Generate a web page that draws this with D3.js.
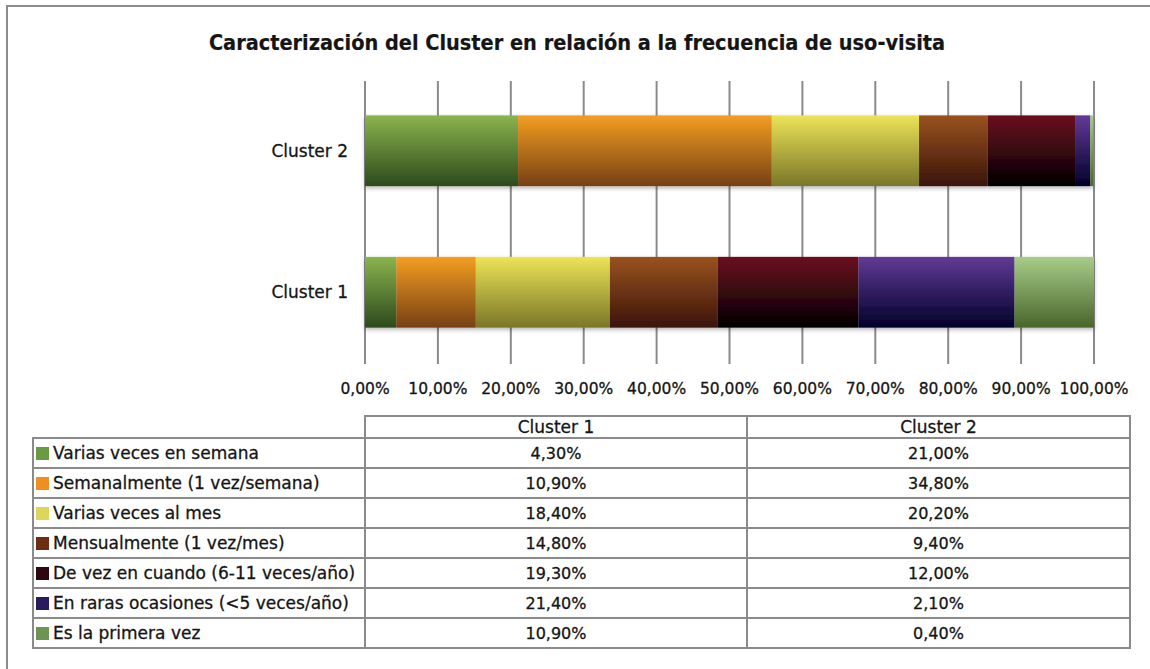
<!DOCTYPE html>
<html>
<head>
<meta charset="utf-8">
<script src="https://cdn.jsdelivr.net/npm/d3@7"></script>
<style>
  body { margin: 0; background: #fff; }
  text { font-family: "DejaVu Sans", sans-serif; fill: #151515; stroke: #151515; stroke-width: 0.3px; }
  text.title { font-family: "DejaVu Sans Condensed", "DejaVu Sans", sans-serif; stroke-width: 0.2px; }
</style>
</head>
<body>
<script>
var width = 1150;
var height = 669;

// data
var clusters = ["Cluster 1", "Cluster 2"];
var categories = [
  "Varias veces en semana",
  "Semanalmente (1 vez/semana)",
  "Varias veces al mes",
  "Mensualmente (1 vez/mes)",
  "De vez en cuando (6-11 veces/año)",
  "En raras ocasiones (<5 veces/año)",
  "Es la primera vez"
];
var cluster1 = [4.3, 10.9, 18.4, 14.8, 19.3, 21.4, 10.9];
var cluster2 = [21.0, 34.8, 20.2, 9.4, 12.0, 2.1, 0.4];
var xTicks = [0, 10, 20, 30, 40, 50, 60, 70, 80, 90, 100];

// colours: [top of gradient, bottom of gradient, legend swatch]
var colors = [
  ["#8ab44e", "#2c4a1c", "#6a9a42"],
  ["#f49e22", "#764014", "#ef8f20"],
  ["#ece458", "#7a7628", "#dcd65a"],
  ["#9a5220", "#3a1408", "#6e2c12"],
  ["#6c1020", "#000000", "#2e0810"],
  ["#623a96", "#00002a", "#2c1a5e"],
  ["#a8cc8a", "#48662a", "#6e9452"]
];

var loc = d3.formatLocale({decimal: ",", thousands: ".", grouping: [3], currency: ["", "€"]});
var fmt = loc.format(".2f");
var pct = function(v) { return fmt(v) + "%"; };

var svg = d3.select("body").append("svg")
  .attr("width", width)
  .attr("height", height);

var defs = svg.append("defs");
colors.forEach(function(c, i) {
  var g = defs.append("linearGradient")
    .attr("id", "grad" + i)
    .attr("x1", 0).attr("y1", 0).attr("x2", 0).attr("y2", 1);
  g.append("stop").attr("offset", "0%").attr("stop-color", c[0]);
  g.append("stop").attr("offset", "100%").attr("stop-color", c[1]);
});
var shadow = defs.append("filter").attr("id", "shadow")
  .attr("x", "-5%").attr("y", "-10%").attr("width", "110%").attr("height", "130%");
shadow.append("feDropShadow")
  .attr("dx", 0).attr("dy", 2).attr("stdDeviation", 2)
  .attr("flood-color", "#000").attr("flood-opacity", 0.3);

// outer frame
svg.append("path")
  .attr("d", "M7,669 V6 H1150")
  .attr("fill", "none")
  .attr("stroke", "#8c8c8c")
  .attr("stroke-width", 2);

// title
svg.append("text")
  .attr("class", "title")
  .attr("x", 577)
  .attr("y", 50)
  .attr("text-anchor", "middle")
  .style("font-size", "21.5px")
  .style("font-weight", "bold")
  .text("Caracterización del Cluster en relación a la frecuencia de uso-visita");

var x = d3.scaleLinear().domain([0, 100]).range([365, 1094]);
var y = d3.scaleBand()
  .domain(["Cluster 2", "Cluster 1"])
  .range([80, 363])
  .paddingInner(0.5)
  .paddingOuter(0.25);

// grid
svg.append("g").selectAll("line")
  .data(xTicks)
  .enter()
  .append("line")
  .attr("x1", function(d) { return x(d); })
  .attr("x2", function(d) { return x(d); })
  .attr("y1", 81)
  .attr("y2", 364)
  .attr("stroke", "#8a8a8a")
  .attr("stroke-width", 2);

// stacked bars
var rows = clusters.map(function(c, ci) {
  var vals = ci === 0 ? cluster1 : cluster2;
  var acc = 0;
  return vals.map(function(v, i) {
    var seg = {cluster: c, i: i, x0: acc, x1: acc + v};
    acc += v;
    return seg;
  });
});

var barG = svg.append("g").attr("filter", "url(#shadow)");
rows.forEach(function(segs) {
  barG.selectAll(null)
    .data(segs)
    .enter()
    .append("rect")
    .attr("x", function(d) { return x(d.x0); })
    .attr("width", function(d) { return x(d.x1) - x(d.x0); })
    .attr("y", function(d) { return y(d.cluster); })
    .attr("height", y.bandwidth())
    .attr("fill", function(d) { return "url(#grad" + d.i + ")"; });
});

// category labels
svg.append("g").selectAll("text")
  .data(clusters)
  .enter()
  .append("text")
  .attr("x", 348)
  .attr("y", function(d) { return y(d) + y.bandwidth() / 2 + 6; })
  .attr("text-anchor", "end")
  .style("font-size", "17px")
  .text(function(d) { return d; });

// x tick labels
svg.append("g").selectAll("text")
  .data(xTicks)
  .enter()
  .append("text")
  .attr("x", function(d) { return x(d); })
  .attr("y", 394)
  .attr("text-anchor", "middle")
  .style("font-size", "15.5px")
  .text(function(d) { return pct(d); });

// data table
var tLeft = 33, tSplit = 365, tMid = 747, tRight = 1130;
var hTop = 416, rTop = 438, rowH = 30;
var tBottom = rTop + rowH * categories.length;
var tg = svg.append("g");
var lineStyle = function(sel) {
  return sel.attr("stroke", "#8a8a8a").attr("stroke-width", 2).attr("fill", "none");
};

tg.append("rect").attr("x", tSplit).attr("y", hTop)
  .attr("width", tRight - tSplit).attr("height", rTop - hTop).call(lineStyle);
tg.append("rect").attr("x", tLeft).attr("y", rTop)
  .attr("width", tRight - tLeft).attr("height", tBottom - rTop).call(lineStyle);
tg.selectAll(".hl")
  .data(d3.range(1, categories.length))
  .enter()
  .append("line")
  .attr("x1", tLeft).attr("x2", tRight)
  .attr("y1", function(d) { return rTop + d * rowH; })
  .attr("y2", function(d) { return rTop + d * rowH; })
  .call(lineStyle);
[tSplit, tMid].forEach(function(vx) {
  tg.append("line").attr("x1", vx).attr("x2", vx)
    .attr("y1", vx === tSplit ? rTop : hTop).attr("y2", tBottom).call(lineStyle);
});

var colCenters = [(tSplit + tMid) / 2, (tMid + tRight) / 2];
tg.selectAll(".hdr")
  .data(clusters)
  .enter()
  .append("text")
  .attr("x", function(d, i) { return colCenters[i]; })
  .attr("y", rTop - 5)
  .attr("text-anchor", "middle")
  .style("font-size", "17px")
  .text(function(d) { return d; });

categories.forEach(function(cat, i) {
  var ry = rTop + i * rowH;
  tg.append("rect")
    .attr("x", 36).attr("y", ry + 9)
    .attr("width", 13).attr("height", 13)
    .attr("fill", colors[i][2]);
  tg.append("text")
    .attr("x", 53).attr("y", ry + 21)
    .style("font-size", "17px")
    .text(cat);
  [cluster1[i], cluster2[i]].forEach(function(v, j) {
    tg.append("text")
      .attr("x", colCenters[j]).attr("y", ry + 21)
      .attr("text-anchor", "middle")
      .style("font-size", "16px")
      .text(pct(v));
  });
});
</script>
</body>
</html>
